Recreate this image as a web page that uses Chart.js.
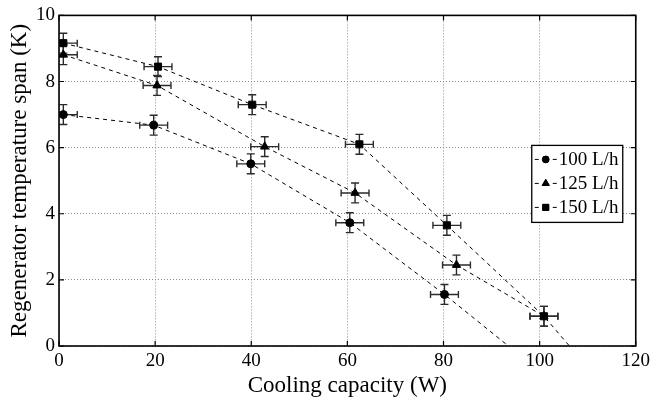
<!DOCTYPE html>
<html>
<head>
<meta charset="utf-8">
<script src="https://cdn.jsdelivr.net/npm/chart.js@4"></script>
<style>
  html, body { margin: 0; padding: 0; background: #ffffff; }
  #wrap { width: 654px; height: 400px; }
</style>
</head>
<body>
<div id="wrap"><canvas id="chart" width="654" height="400"></canvas></div>
<script>
// Regenerator temperature span versus cooling capacity for three flow rates
const flowRates = ['100 L/h', '125 L/h', '150 L/h'];

const capacity100 = [0.9, 19.7, 39.9, 60.5, 80.2];
const span100     = [7.0, 6.68, 5.51, 3.73, 1.56];

const capacity125 = [0.9, 20.4, 42.8, 61.6, 82.7, 100.9];
const span125     = [8.81, 7.88, 6.03, 4.63, 2.45, 0.9];

const capacity150 = [0.9, 20.6, 40.2, 62.5, 80.7, 100.9];
const span150     = [9.16, 8.45, 7.3, 6.1, 3.65, 0.9];

// where the dashed trend lines reach zero span
const zeroSpanCapacity100 = 93.5;
const zeroSpanCapacity150 = 106.2;

// measurement uncertainty
const capacityError = 2.9;   // W
const spanError = 0.3;       // K

const xTicks = [0, 20, 40, 60, 80, 100, 120];
const yTicks = [0, 2, 4, 6, 8, 10];

const FONT = "'Liberation Serif', 'Times New Roman', serif";
const markerStyles = ['circle', 'triangle', 'rect'];
const markerRadius = [4, 4.8, 5];

function pts(xs, ys) { return xs.map((x, i) => ({ x: x, y: ys[i] })); }

const series = [
  { cap: capacity100, span: span100, tail: [{ x: zeroSpanCapacity100, y: 0 }] },
  { cap: capacity125, span: span125, tail: [] },
  { cap: capacity150, span: span150, tail: [{ x: zeroSpanCapacity150, y: 0 }] }
];

const datasets = [];
// dashed trend lines
series.forEach((s, i) => {
  datasets.push({
    type: 'line',
    label: flowRates[i] + ' trend',
    data: pts(s.cap, s.span).concat(s.tail),
    borderColor: '#000',
    borderWidth: 1,
    borderDash: [4, 4],
    pointRadius: 0,
    fill: false,
    tension: 0,
    order: 10,
    isTrend: true
  });
});
// measured points
series.forEach((s, i) => {
  datasets.push({
    type: 'scatter',
    label: flowRates[i],
    data: pts(s.cap, s.span),
    showLine: false,
    pointStyle: markerStyles[i],
    pointRadius: markerRadius[i],
    pointHoverRadius: markerRadius[i],
    backgroundColor: '#000',
    borderColor: '#000',
    borderWidth: 1,
    order: 3 - i
  });
});

// error bars drawn beneath the markers
const errorBars = {
  id: 'errorBars',
  beforeDatasetsDraw(chart) {
    const { ctx, chartArea: a, scales: { x, y } } = chart;
    ctx.save();
    ctx.beginPath();
    ctx.rect(a.left, a.top, a.right - a.left, a.bottom - a.top);
    ctx.clip();
    ctx.strokeStyle = '#2b2b2b';
    ctx.lineWidth = 1.4;
    series.forEach(s => {
      s.cap.forEach((c, j) => {
        const px = x.getPixelForValue(c);
        const py = y.getPixelForValue(s.span[j]);
        const yT = y.getPixelForValue(s.span[j] + spanError);
        const yB = y.getPixelForValue(s.span[j] - spanError);
        const xL = x.getPixelForValue(c - capacityError);
        const xR = x.getPixelForValue(c + capacityError);
        ctx.beginPath();
        ctx.moveTo(px, yT); ctx.lineTo(px, yB);
        ctx.moveTo(px - 4, yT); ctx.lineTo(px + 4, yT);
        ctx.moveTo(px - 4, yB); ctx.lineTo(px + 4, yB);
        ctx.moveTo(xL, py); ctx.lineTo(xR, py);
        ctx.moveTo(xL, py - 3.5); ctx.lineTo(xL, py + 3.5);
        ctx.moveTo(xR, py - 3.5); ctx.lineTo(xR, py + 3.5);
        ctx.stroke();
      });
    });
    ctx.restore();
  }
};

// boxed frame with inward ticks, and the legend with line samples
const frameAndLegend = {
  id: 'frameAndLegend',
  afterDraw(chart) {
    const { ctx, chartArea: a, scales: { x, y } } = chart;
    ctx.save();
    ctx.strokeStyle = '#000';
    ctx.lineWidth = 1.6;
    ctx.strokeRect(a.left, a.top, a.right - a.left, a.bottom - a.top);
    ctx.lineWidth = 1.2;
    ctx.beginPath();
    const tl = 5;
    xTicks.forEach(v => {
      const px = x.getPixelForValue(v);
      ctx.moveTo(px, a.bottom); ctx.lineTo(px, a.bottom - tl);
      ctx.moveTo(px, a.top); ctx.lineTo(px, a.top + tl);
    });
    yTicks.forEach(v => {
      const py = y.getPixelForValue(v);
      ctx.moveTo(a.left, py); ctx.lineTo(a.left + tl, py);
      ctx.moveTo(a.right, py); ctx.lineTo(a.right - tl, py);
    });
    ctx.stroke();

    // legend
    const w = 91, rowH = 24;
    const left = a.right - 13 - w;
    const top = a.top + 130;
    const h = rowH * flowRates.length + 5;
    ctx.fillStyle = '#fff';
    ctx.fillRect(left, top, w, h);
    ctx.lineWidth = 1.3;
    ctx.strokeRect(left, top, w, h);
    ctx.font = '19px ' + FONT;
    ctx.textBaseline = 'middle';
    ctx.textAlign = 'left';
    flowRates.forEach((name, i) => {
      const cy = top + 14 + i * rowH;
      const mx = left + 14;
      ctx.strokeStyle = '#000';
      ctx.lineWidth = 1;
      ctx.beginPath();
      ctx.moveTo(left + 3, cy); ctx.lineTo(left + 7, cy);
      ctx.moveTo(left + 21, cy); ctx.lineTo(left + 25, cy);
      ctx.stroke();
      ctx.fillStyle = '#000';
      Chart.helpers.drawPoint(ctx, {
        pointStyle: markerStyles[i],
        radius: markerRadius[i] - 0.6,
        borderWidth: 1,
        rotation: 0
      }, mx, cy);
      ctx.fill();
      ctx.fillStyle = '#000';
      ctx.fillText(name, left + 27, cy + 1);
    });
    ctx.restore();
  }
};

new Chart(document.getElementById('chart'), {
  data: { datasets: datasets },
  plugins: [errorBars, frameAndLegend],
  options: {
    responsive: false,
    animation: false,
    events: [],
    layout: { padding: { top: 13, right: 17, left: 0, bottom: 0 } },
    plugins: { legend: { display: false }, tooltip: { enabled: false } },
    scales: {
      x: {
        type: 'linear',
        min: 0, max: 120,
        afterBuildTicks(scale) { scale.ticks = xTicks.map(v => ({ value: v })); },
        afterFit(scale) { scale.height = 54; },
        grid: { color: '#8a8a8a', lineWidth: 1, drawTicks: false },
        border: { display: false, dash: [1, 2] },
        ticks: { color: '#000', padding: 4, font: { family: FONT, size: 19 } },
        title: {
          display: true, text: 'Cooling capacity (W)', color: '#000',
          font: { family: FONT, size: 23, lineHeight: 1.2 },
          padding: { top: 0, bottom: 0 }
        }
      },
      y: {
        type: 'linear',
        min: 0, max: 10,
        afterBuildTicks(scale) { scale.ticks = yTicks.map(v => ({ value: v })); },
        afterFit(scale) { scale.width = 59; },
        grid: { color: '#8a8a8a', lineWidth: 1, drawTicks: false },
        border: { display: false, dash: [1, 2] },
        ticks: { color: '#000', padding: 4, font: { family: FONT, size: 19 } },
        title: {
          display: true, text: 'Regenerator temperature span (K)', color: '#000',
          font: { family: FONT, size: 23, lineHeight: 1.2 },
          padding: { top: 6, bottom: 0 }
        }
      }
    }
  }
});
</script>
</body>
</html>
